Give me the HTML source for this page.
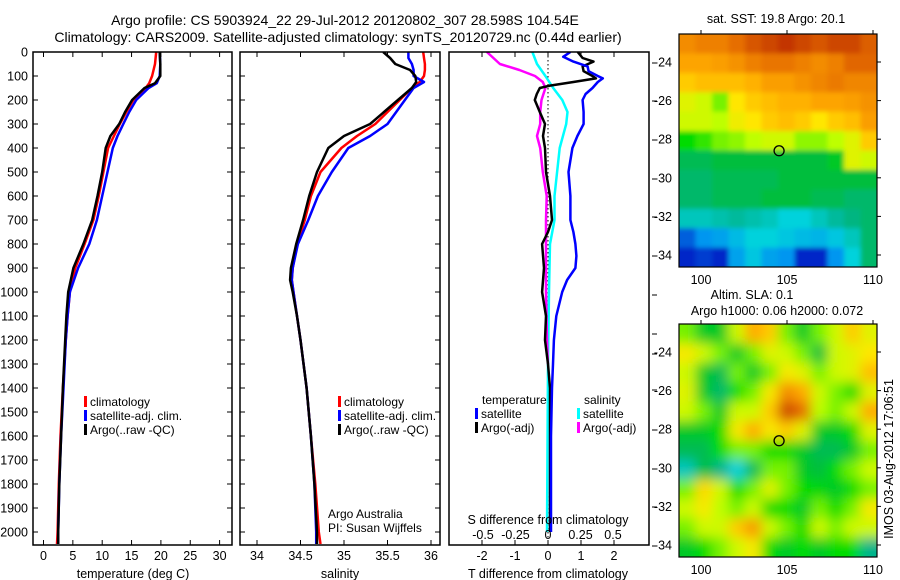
<!DOCTYPE html>
<html><head><meta charset="utf-8">
<style>
html,body{margin:0;padding:0;background:#fff;}
svg{display:block;font-family:"Liberation Sans",sans-serif;}
text{fill:#000;}
</style></head>
<body>
<svg id="fig" width="900" height="580" viewBox="0 0 900 580" xmlns="http://www.w3.org/2000/svg">
<defs>
<clipPath id="cp1"><rect x="33" y="52" width="199" height="493"/></clipPath>
<clipPath id="cp2"><rect x="240" y="52" width="200" height="493"/></clipPath>
<clipPath id="cp3"><rect x="449" y="52" width="200" height="493"/></clipPath>
<clipPath id="cpm1"><rect x="679" y="34" width="198" height="233"/></clipPath>
<clipPath id="cpm2"><rect x="679" y="324" width="198" height="233"/></clipPath>
<filter id="blurS" x="-10%" y="-10%" width="120%" height="120%"><feGaussianBlur stdDeviation="2.5"/></filter>
<filter id="blurL" x="-10%" y="-10%" width="120%" height="120%"><feGaussianBlur stdDeviation="6"/></filter>
</defs>
<text x="345" y="25" font-size="14" text-anchor="middle">Argo profile: CS 5903924_22 29-Jul-2012 20120802_307 28.598S 104.54E</text>
<text x="338" y="42" font-size="14" text-anchor="middle">Climatology: CARS2009. Satellite-adjusted climatology: synTS_20120729.nc (0.44d earlier)</text>
<g id="g1"></g>
<g id="g2"></g>
<g id="g3"></g>
<g id="m1"></g>
<g id="m2"></g>
<text x="776" y="23" font-size="12.5" text-anchor="middle">sat. SST: 19.8 Argo: 20.1</text>
<text x="752" y="299" font-size="12.5" text-anchor="middle">Altim. SLA: 0.1</text>
<text x="777" y="315" font-size="12.5" text-anchor="middle">Argo h1000: 0.06 h2000: 0.072</text>
<text x="0" y="0" font-size="12.5" text-anchor="middle" transform="translate(893,459) rotate(-90)">IMOS 03-Aug-2012 17:06:51</text>
</svg>
<script>
// ---------- Temperature data ----------
const tDepth = [0,50,100,130,150,200,250,300,350,400,500,600,700,800,900,1000,1100,1200,1400,1600,1800,2000,2050];
const tClim  = [19.2,19.0,18.5,18.0,17.4,15.3,14.1,13.0,12.0,11.0,10.2,9.4,8.5,7.0,5.4,4.5,4.1,3.8,3.3,2.9,2.6,2.4,2.3];
const tSat   = [19.8,19.9,19.8,19.3,17.9,15.8,14.6,13.6,12.6,11.8,10.9,10.0,9.1,7.8,5.9,4.5,4.1,3.8,3.4,3.0,2.7,2.5,2.5];
const tArgo  = [19.8,19.9,19.9,19.0,17.2,15.1,13.9,12.9,11.4,10.6,10.0,9.2,8.3,6.8,5.1,4.2,3.9,3.7,3.3,3.0,2.7,2.5,2.5];
// ---------- Salinity data ----------
const sDepth = [0,25,50,75,100,125,150,200,250,300,350,400,500,600,700,800,900,950,1000,1100,1200,1400,1600,1800,2000,2050];
const sClim  = [35.91,35.92,35.93,35.93,35.92,35.87,35.78,35.64,35.5,35.36,35.15,34.97,34.73,34.62,34.55,34.46,34.41,34.40,34.42,34.46,34.5,34.57,34.62,34.67,34.71,34.73];
const sSat   = [35.74,35.74,35.78,35.80,35.80,35.92,35.80,35.70,35.6,35.5,35.3,35.05,34.86,34.7,34.59,34.47,34.41,34.40,34.42,34.46,34.5,34.57,34.62,34.66,34.68,34.68];
const sArgo  = [35.45,35.53,35.59,35.76,35.82,35.83,35.78,35.62,35.46,35.3,35.0,34.82,34.69,34.60,34.53,34.45,34.39,34.38,34.41,34.46,34.5,34.57,34.62,34.66,34.69,34.69];
// ---------- Difference data ----------
const dtDepth = [0,20,40,60,80,100,110,125,150,175,200,250,300,350,400,500,600,700,750,800,850,900,950,1000,1100,1200,1300,1400,1600,2000];
const dtSat   = [0.68,0.46,0.77,1.2,1.23,1.51,1.66,1.51,1.35,1.14,1.05,1.08,1.08,0.89,0.74,0.62,0.68,0.68,0.77,0.83,0.86,0.83,0.58,0.43,0.25,0.18,0.15,0.12,0.09,0.09];
const dtArgoDepth = [0,25,40,60,80,100,110,125,140,150,175,200,250,300,350,400,500,600,700,750,800,900,1000,1100,1200,1300,1400,1600,2000];
const dtArgo  = [0.9,1.05,1.38,1.05,1.08,1.35,1.45,0.77,0.06,-0.25,-0.34,-0.4,-0.25,-0.09,-0.15,-0.09,-0.06,0.06,0.12,0,-0.18,-0.12,-0.18,-0.06,-0.09,0,0.06,0.06,0.06];
const dsSatDepth = [0,50,100,150,200,250,300,400,500,600,700,800,1000,1300,2000];
const dsSat   = [-0.12,-0.085,-0.02,0.04,0.11,0.15,0.14,0.09,0.07,0.05,0.05,0.015,0.008,0,-0.008];
const dsArgoDepth = [0,25,50,75,100,125,150,200,250,300,350,400,500,600,700,800,1000,1200,1300];
const dsArgo  = [-0.47,-0.42,-0.37,-0.22,-0.1,-0.04,-0.02,-0.05,-0.06,-0.06,-0.085,-0.06,-0.04,-0.01,-0.015,-0.015,-0.015,-0.008,0];
// ---------- Axis ticks ----------
const depthTicks = [0,100,200,300,400,500,600,700,800,900,1000,1100,1200,1300,1400,1500,1600,1700,1800,1900,2000];
const tempTicks = [0,5,10,15,20,25,30];
const salTicks = [34,34.5,35,35.5,36];
const salTickLabels = ["34","34.5","35","35.5","36"];
const dtTicks = [-2,-1,0,1,2];
const dsTicks = [-0.5,-0.25,0,0.25,0.5];
const dsTickLabels = ["-0.5","-0.25","0","0.25","0.5"];
const latTicks = [-24,-26,-28,-30,-32,-34];
const lonTicks = [100,105,110];
// ---------- Map data (colour index 0..1) ----------
const sstGrid = [
 [.80,.82,.82,.85,.88,.90,.92,.90,.88,.90,.90,.87],
 [.76,.76,.77,.79,.82,.84,.84,.82,.80,.82,.86,.86],
 [.70,.72,.72,.72,.74,.77,.77,.79,.81,.83,.81,.81],
 [.62,.60,.55,.66,.70,.72,.74,.74,.76,.76,.77,.79],
 [.60,.60,.58,.64,.66,.70,.72,.70,.66,.70,.72,.77],
 [.50,.52,.55,.56,.58,.60,.60,.56,.56,.58,.62,.70],
 [.40,.40,.42,.42,.42,.42,.42,.42,.42,.45,.62,.60],
 [.38,.38,.40,.40,.40,.40,.42,.42,.42,.42,.42,.42],
 [.38,.38,.40,.40,.40,.42,.42,.42,.40,.40,.38,.38],
 [.32,.32,.33,.34,.33,.32,.30,.30,.32,.34,.36,.38],
 [.15,.20,.22,.26,.30,.30,.28,.26,.25,.28,.32,.38],
 [.10,.12,.10,.22,.28,.22,.20,.10,.10,.20,.30,.38]];
const slaGrid = [
 [.55,.45,.45,.60,.75,.70,.55,.45,.55,.60,.70,.62],
 [.65,.60,.55,.45,.55,.62,.60,.55,.42,.60,.62,.66],
 [.60,.45,.40,.55,.45,.55,.65,.62,.55,.60,.62,.72],
 [.62,.45,.38,.50,.55,.65,.80,.75,.60,.55,.50,.62],
 [.60,.55,.45,.60,.60,.70,.90,.85,.58,.55,.60,.75],
 [.45,.45,.50,.65,.75,.65,.70,.62,.45,.45,.50,.62],
 [.40,.40,.50,.55,.55,.50,.50,.45,.40,.40,.45,.55],
 [.32,.42,.35,.30,.40,.55,.55,.45,.42,.50,.55,.60],
 [.55,.68,.60,.50,.55,.62,.55,.50,.48,.45,.50,.55],
 [.60,.65,.58,.55,.60,.50,.50,.45,.55,.50,.55,.65],
 [.55,.60,.60,.70,.78,.60,.55,.50,.60,.55,.60,.60],
 [.45,.50,.55,.60,.65,.50,.45,.50,.45,.50,.50,.35]];
const argoLon = 104.54, argoLat = -28.6;

const NS='http://www.w3.org/2000/svg';
function mk(parent, tag, attrs){const e=document.createElementNS(NS,tag);for(const k in attrs)e.setAttribute(k,attrs[k]);parent.appendChild(e);return e;}
function txt(parent,x,y,s,anchor,size){const t=mk(parent,'text',{x:x,y:y,'font-size':size||12.5,'text-anchor':anchor||'start'});t.textContent=s;return t;}
const yD = d => 52 + d*0.24;
const xT = v => 43.5 + v*5.87;
const xS = v => 257 + (v-34)*87;
const xDT = v => 548 + v*33;
const xDS = v => 548 + v*130;
const TOP=52, BOT=545;

function frame(g,x0,x1,name){
  const r=mk(g,'rect',{x:x0,y:TOP,width:x1-x0,height:BOT-TOP,fill:'none',stroke:'#000','stroke-width':1.5});
  
  
}
function line(g,xs,ds,fx,color,clip,name){
  const pts=xs.map((v,i)=>fx(v).toFixed(1)+','+yD(ds[i]).toFixed(1)).join(' ');
  const p=mk(g,'polyline',{points:pts,fill:'none',stroke:color,'stroke-width':2.5,'clip-path':'url(#'+clip+')','stroke-linejoin':'round'});
  
  
}
function yTicks(g,x0,x1,labels){
  depthTicks.forEach(d=>{const y=yD(d);
    mk(g,'line',{x1:x0,x2:x0+5,y1:y,y2:y,stroke:'#000'});
    mk(g,'line',{x1:x1-5,x2:x1,y1:y,y2:y,stroke:'#000'});
    if(labels){const t=txt(g,28,y+4.5,String(d),'end');
      
      }
  });
}
function xTicks(g,ticks,labels,fx,ly){
  ticks.forEach((v,i)=>{const x=fx(v);
    mk(g,'line',{x1:x,x2:x,y1:TOP,y2:TOP+5,stroke:'#000'});
    mk(g,'line',{x1:x,x2:x,y1:BOT-5,y2:BOT,stroke:'#000'});
    if(labels){const t=txt(g,x,ly,labels[i],'middle');
      
      }
  });
}
function legend(g,x,y,color,label){
  const r=mk(g,'rect',{x:x,y:y-10,width:3,height:11,fill:color});
  
  
  const t=txt(g,x+6,y,label,'start',12);
  
  
}

// Panel 1
const g1=document.getElementById('g1');
line(g1,tClim,tDepth,xT,'#ff0000','cp1','temp-climatology-line');
line(g1,tSat,tDepth,xT,'#0000ff','cp1','temp-satellite-line');
line(g1,tArgo,tDepth.slice(0,tArgo.length),xT,'#000000','cp1','temp-argo-line');
frame(g1,33,232,'temperature-axes');
yTicks(g1,33,232,true);
xTicks(g1,tempTicks,tempTicks.map(String),xT,560);
let t=txt(g1,133,578,'temperature (deg C)','middle');

legend(g1,84,406,'#ff0000','climatology');
legend(g1,84,420,'#0000ff','satellite-adj. clim.');
legend(g1,84,434,'#000000','Argo(..raw -QC)');

// Panel 2
const g2=document.getElementById('g2');
line(g2,sClim,sDepth,xS,'#ff0000','cp2','sal-climatology-line');
line(g2,sSat,sDepth,xS,'#0000ff','cp2','sal-satellite-line');
line(g2,sArgo,sDepth,xS,'#000000','cp2','sal-argo-line');
frame(g2,240,440,'salinity-axes');
yTicks(g2,240,440,false);
xTicks(g2,salTicks,salTickLabels,xS,560);
t=txt(g2,340,578,'salinity','middle');

legend(g2,338,406,'#ff0000','climatology');
legend(g2,338,420,'#0000ff','satellite-adj. clim.');
legend(g2,338,434,'#000000','Argo(..raw -QC)');
t=txt(g2,328,518,'Argo Australia','start',12); 
t=txt(g2,328,532,'PI: Susan Wijffels','start',12); 

// Panel 3
const g3=document.getElementById('g3');
mk(g3,'line',{x1:548,x2:548,y1:TOP,y2:BOT,stroke:'#000','stroke-dasharray':'1.5,2.5'});
line(g3,dsSat,dsSatDepth,xDS,'#00ffff','cp3','sal-diff-satellite-line');
line(g3,dsArgo,dsArgoDepth,xDS,'#ff00ff','cp3','sal-diff-argo-line');
line(g3,dtArgo,dtArgoDepth,xDT,'#000000','cp3','temp-diff-argo-line');
line(g3,dtSat,dtDepth,xDT,'#0000ff','cp3','temp-diff-satellite-line');
frame(g3,449,649,'difference-axes');
xTicks(g3,dtTicks,dtTicks.map(String),xDT,560);
dsTicks.forEach((v,i)=>{const tt=txt(g3,xDS(v),539,dsTickLabels[i],'middle');
  });
[63,101,140,179,217,256,295,334,354,390,430,469,507,546].forEach(y=>mk(g3,'line',{x1:652,x2:657,y1:y,y2:y,stroke:'#000'}));
t=txt(g3,548,524,'S difference from climatology','middle'); 
t=txt(g3,548,578,'T difference from climatology','middle'); 
t=txt(g3,482,404,'temperature','start',12); 
t=txt(g3,584,404,'salinity','start',12); 
legend(g3,475,418,'#0000ff','satellite');
legend(g3,475,432,'#000000','Argo(-adj)');
legend(g3,577,418,'#00ffff','satellite');
legend(g3,577,432,'#ff00ff','Argo(-adj)');

// Maps
const stops=[[0,0,0,130],[.1,0,40,200],[.2,0,150,240],[.3,0,210,220],[.35,0,180,140],[.42,0,190,60],[.5,0,220,0],[.58,190,255,0],[.66,255,230,0],[.75,255,170,0],[.85,230,110,0],[.95,180,30,0],[1,130,0,0]];
function cmap(v){
  for(let i=1;i<stops.length;i++){if(v<=stops[i][0]){const a=stops[i-1],b=stops[i];const f=(v-a[0])/(b[0]-a[0]);
    return 'rgb('+[1,2,3].map(k=>Math.round(a[k]+(b[k]-a[k])*f)).join(',')+')';}}
  return 'rgb(130,0,0)';
}
const mX0=679, mW=198, mH=233;
const xLon = lon => 701 + (lon-100)*17.2;
function drawMap(gid,grid,y0,clip,filt,name){
  const g=document.getElementById(gid);
  const cg=mk(g,'g',{'clip-path':'url(#'+clip+')'});
  const ig=mk(cg,'g',{filter:'url(#'+filt+')'});
  const nr=grid.length,nc=grid[0].length,cw=mW/nc,ch=mH/nr;
  for(let r=-1;r<=nr;r++)for(let c=-1;c<=nc;c++){
    const rr=Math.min(nr-1,Math.max(0,r)),cc=Math.min(nc-1,Math.max(0,c));
    const cell=mk(ig,'rect',{x:(mX0+c*cw).toFixed(2),y:(y0+r*ch).toFixed(2),width:(cw+0.6).toFixed(2),height:(ch+0.6).toFixed(2),fill:cmap(grid[rr][cc])});
    
    
  }
  const fr=mk(g,'rect',{x:mX0,y:y0,width:mW,height:mH,fill:'none',stroke:'#000','stroke-width':1.2});
  
  
  const yLat = lat => y0+28 + (-24-lat)*19.3;
  latTicks.forEach(l=>{const y=yLat(l);
    mk(g,'line',{x1:mX0+mW,x2:mX0+mW+4,y1:y,y2:y,stroke:'#000'});
    const tt=txt(g,672,y+4.5,String(l),'end'); });
  lonTicks.forEach(l=>{const x=xLon(l);
    mk(g,'line',{x1:x,x2:x,y1:y0-4,y2:y0,stroke:'#000'});
    const tt=txt(g,x,y0+mH+17,String(l),'middle'); });
  const m=mk(g,'circle',{cx:xLon(argoLon),cy:yLat(argoLat),r:5,fill:'none',stroke:'#000','stroke-width':1.3});
  
  
}
drawMap('m1',sstGrid,34,'cpm1','blurS','sst-map');
drawMap('m2',slaGrid,324,'cpm2','blurL','sla-map');
</script>
</body></html>
